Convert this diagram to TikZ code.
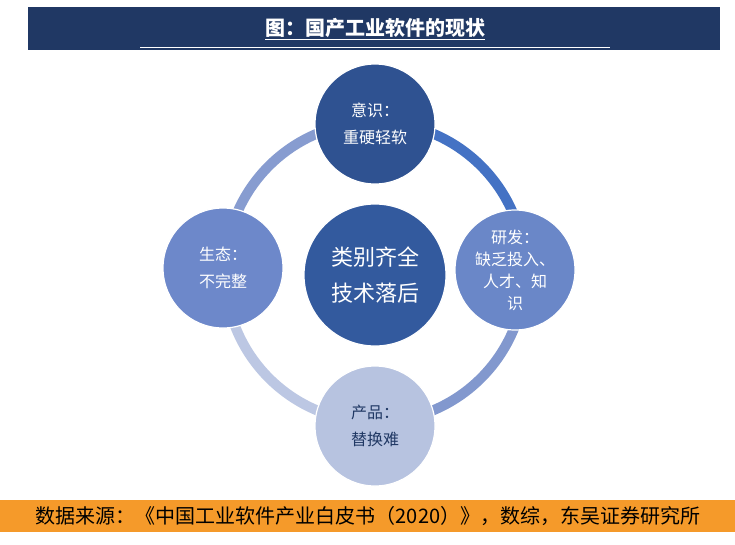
\documentclass[tikz,border=0pt]{standalone}
\usepackage{fontspec}
\setmainfont{Noto Sans CJK SC}
\begin{document}
\begin{tikzpicture}[x=1pt,y=-1pt,
 bub/.style={circle,minimum size=120pt,inner sep=0pt,align=center,font=\fontsize{16}{27}\selectfont,draw=white,line width=1.2pt},
 ring/.style={line width=10pt}]
\definecolor{navy}{HTML}{203864}
\definecolor{cA}{HTML}{2F5291}
\definecolor{cB}{HTML}{335A9E}
\definecolor{cR}{HTML}{6A87C8}
\definecolor{cL}{HTML}{6D88CA}
\definecolor{cD}{HTML}{B7C3E0}
\definecolor{foot}{HTML}{F59A2A}
\useasboundingbox (0,0) rectangle (735,544);
\fill[white] (0,0) rectangle (735,544);
\fill[navy] (28,7) rectangle (720,50);
\draw[white,line width=1pt] (140,47) -- (610,47);
\node[text=white,font=\fontsize{20}{22}\selectfont\bfseries] (title) at (375,29) {\underline{图：国产工业软件的现状}};
\fill[foot] (0,500) rectangle (735,532);
\node[font=\fontsize{20}{22}\selectfont] (src) at (368,516) {数据来源：《中国工业软件产业白皮书（2020）》，数综，东吴证券研究所};
\coordinate (o) at (375,272);
\draw[ring,color={rgb,255:red,68;green,114;blue,196}] ([shift={(0:150)}]o) arc (0:-90:150);
\draw[ring,color={rgb,255:red,130;green,152;blue,206}] ([shift={(0:150)}]o) arc (0:90:150);
\draw[ring,color={rgb,255:red,188;green,199;blue,227}] ([shift={(90:150)}]o) arc (90:180:150);
\draw[ring,color={rgb,255:red,135;green,156;blue,208}] ([shift={(180:150)}]o) arc (180:270:150);
\node[bub,fill=cA,text=white] (top) at (375,124) {意识：\\重硬轻软};
\node[bub,fill=cR,text=white,font=\fontsize{16}{22}\selectfont] (right) at (515,270) {研发：\\缺乏投入、\\人才、知\\识};
\node[bub,fill=cD,text=navy,draw=white] (bot) at (375,426) {产品：\\替换难};
\node[bub,fill=cL,text=white] (left) at (223,268) {生态：\\不完整};
\node[bub,fill=cB,text=white,minimum size=142pt,font=\fontsize{22}{36}\selectfont] (mid) at (375,275) {类别齐全\\技术落后};
\end{tikzpicture}
\end{document}
